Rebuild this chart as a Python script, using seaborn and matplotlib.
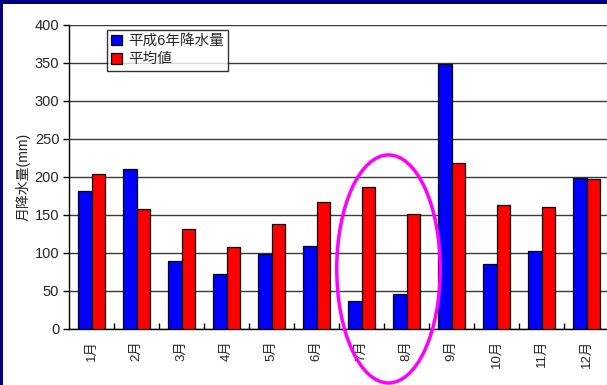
import matplotlib
matplotlib.use("Agg")
import matplotlib.pyplot as plt
from matplotlib.patches import Ellipse, Rectangle
import seaborn as sns
import pandas as pd

months = ["1月", "2月", "3月", "4月", "5月", "6月", "7月", "8月", "9月", "10月", "11月", "12月"]
rain_h6 = [182, 211, 90, 72, 99, 109, 37, 46, 349, 85, 103, 199]
rain_avg = [204, 158, 132, 108, 138, 167, 187, 151, 219, 163, 160, 197]
series_names = ["平成6年降水量", "平均値"]
y_ticks = [0, 50, 100, 150, 200, 250, 300, 350, 400]

sns.set_theme(style="white")
plt.rcParams["font.family"] = ["Liberation Sans", "Noto Sans CJK JP"]

df = pd.DataFrame({
    "month": months * 2,
    "value": rain_h6 + rain_avg,
    "series": [series_names[0]] * len(months) + [series_names[1]] * len(months),
})

fig = plt.figure(figsize=(6.07, 3.85), dpi=100)
fig.patch.set_facecolor("white")
ax = fig.add_axes([69 / 607, 1 - 329 / 385, 540 / 607, 304 / 385])

sns.barplot(data=df, x="month", y="value", hue="series", order=months,
            hue_order=series_names, palette=["#0000FF", "#FF0000"],
            width=0.6, gap=0, edgecolor="black", linewidth=0.9,
            saturation=1, ax=ax, zorder=3)

ax.set_ylim(0, 400)
ax.set_xlim(-0.5, 11.5)
ax.set_yticks(y_ticks)
ax.yaxis.grid(True, color="#3a3a3a", linewidth=1)
ax.set_axisbelow(True)
for s in ["top", "right"]:
    ax.spines[s].set_visible(False)
for s in ["left", "bottom"]:
    ax.spines[s].set_color("black")
    ax.spines[s].set_linewidth(1)

ax.set_xlabel("")
ax.set_ylabel("月降水量(mm)", fontsize=10, labelpad=3)
ax.tick_params(axis="y", labelsize=10.5, length=4, width=1, color="black",
               direction="out", pad=3, left=True)
ax.set_xticks(range(len(months)))
ax.set_xticklabels(months, rotation=90, fontsize=9.5)
ax.tick_params(axis="x", length=0, pad=8)
# category boundary ticks pointing inward
ax.set_xticks([i + 0.5 for i in range(len(months) - 1)], minor=True)
ax.tick_params(axis="x", which="minor", length=4, width=1, direction="in",
               color="black", bottom=True)

leg = ax.legend(loc="upper left", bbox_to_anchor=(0.07, 0.985), borderaxespad=0,
                fontsize=10.5, frameon=True, fancybox=False, edgecolor="black",
                handlelength=0.75, handleheight=0.75, handletextpad=0.4,
                borderpad=0.3, labelspacing=0.3)
leg.get_frame().set_linewidth(1)

# highlight ellipse around July and August
ell_center = (6.6, 79)
ell_w, ell_h = 2.3, 300
ax.add_patch(Ellipse(ell_center, ell_w, ell_h, fill=False, edgecolor="#FF00FF",
                     linewidth=2.5, clip_on=False, zorder=5))

# navy frame strips
fig.add_artist(Rectangle((0, 1 - 4 / 385), 1, 4 / 385, transform=fig.transFigure,
                         facecolor="#000080", edgecolor="none"))
fig.add_artist(Rectangle((0, 0), 3 / 607, 1, transform=fig.transFigure,
                         facecolor="#000080", edgecolor="none"))

fig.savefig("out.png", dpi=100)
